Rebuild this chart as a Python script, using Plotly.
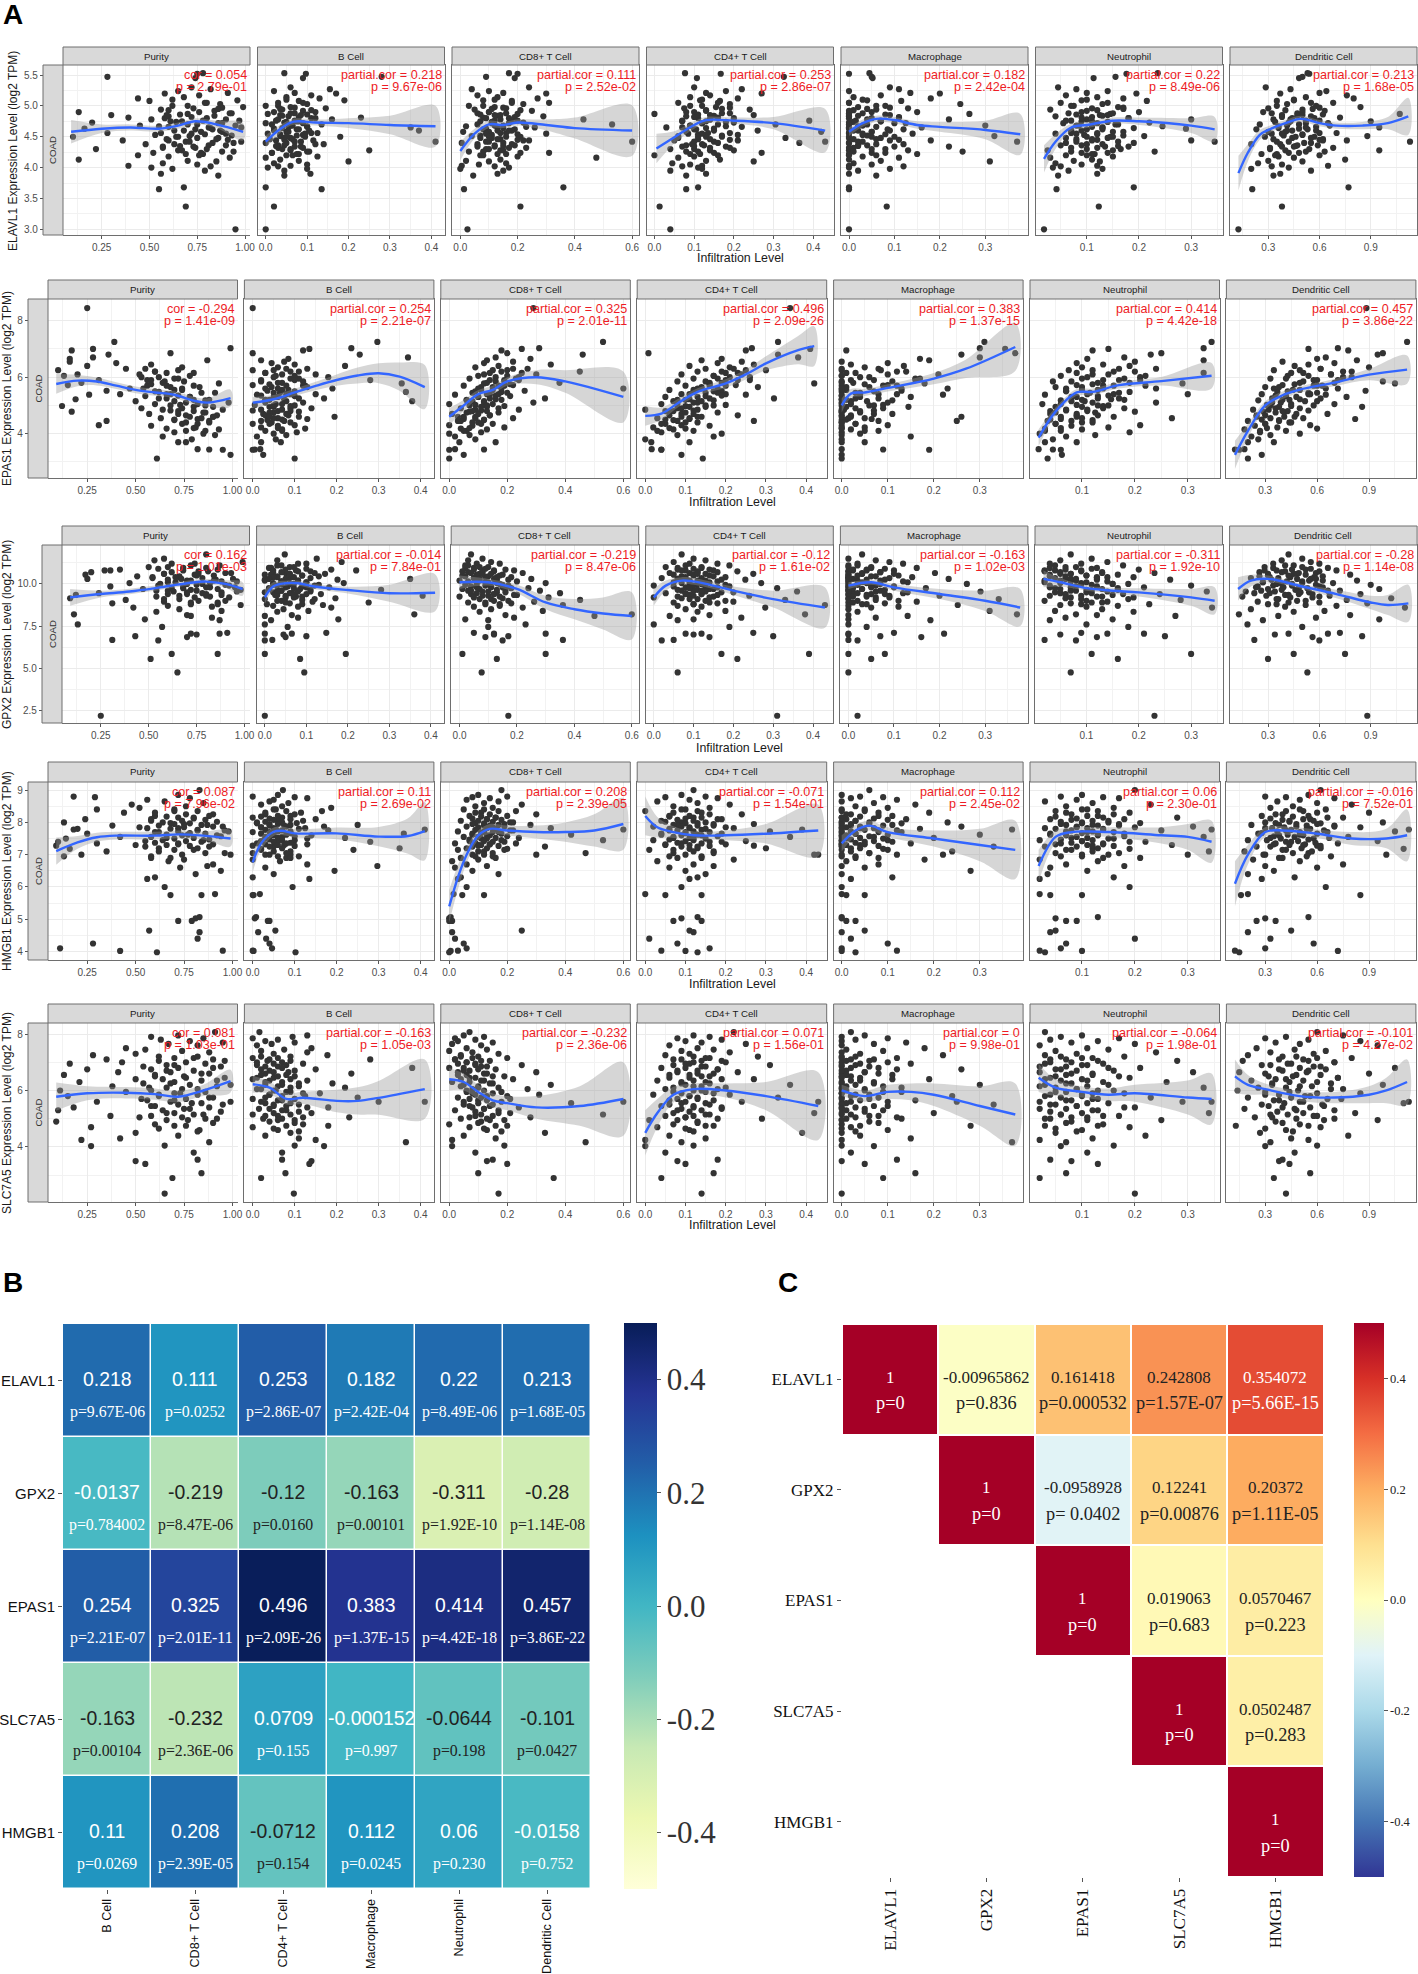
import plotly.graph_objects as go

W, H = 1418, 1974
SANS = "Liberation Sans"
SERIF = "Liberation Serif"

genes = ["ELAVL1", "EPAS1", "GPX2", "HMGB1", "SLC7A5"]
facets = ["Purity", "B Cell", "CD8+ T Cell", "CD4+ T Cell", "Macrophage", "Neutrophil", "Dendritic Cell"]

# cor labels per panel, row by row
cors = [["0.054", "0.218", "0.111", "0.253", "0.182", "0.22", "0.213"],
        ["-0.294", "0.254", "0.325", "0.496", "0.383", "0.414", "0.457"],
        ["0.162", "-0.014", "-0.219", "-0.12", "-0.163", "-0.311", "-0.28"],
        ["0.087", "0.11", "0.208", "-0.071", "0.112", "0.06", "-0.016"],
        ["0.081", "-0.163", "-0.232", "0.071", "0", "-0.064", "-0.101"]]
pvals = [["2.79e-01", "9.67e-06", "2.52e-02", "2.86e-07", "2.42e-04", "8.49e-06", "1.68e-05"],
         ["1.41e-09", "2.21e-07", "2.01e-11", "2.09e-26", "1.37e-15", "4.42e-18", "3.86e-22"],
         ["1.01e-03", "7.84e-01", "8.47e-06", "1.61e-02", "1.02e-03", "1.92e-10", "1.14e-08"],
         ["7.96e-02", "2.69e-02", "2.39e-05", "1.54e-01", "2.45e-02", "2.30e-01", "7.52e-01"],
         ["1.03e-01", "1.05e-03", "2.36e-06", "1.56e-01", "9.98e-01", "1.98e-01", "4.27e-02"]]

# scatter points: one expression list per gene (same samples in
# every panel of a row), one infiltration list per cell type. outliers are read dot by
# dot, the dense cores can't be separated so those are estimates
ELAVL1_expr = [5.53,5.52,5.47,5.45,5.3,5.27,5.24,5.21,5.2,5.17,
 5.14,5.12,5.09,5.08,5.05,5.03,5.0,4.98,4.96,4.94,
 4.92,4.9,4.88,4.87,4.85,4.83,4.81,4.8,4.78,4.76,
 4.75,4.73,4.72,4.7,4.68,4.67,4.65,4.63,4.62,4.6,
 4.58,4.56,4.55,4.53,4.51,4.5,4.48,4.46,4.44,4.42,
 4.4,4.38,4.36,4.34,4.32,4.3,4.28,4.26,4.24,4.22,
 4.2,4.18,4.16,4.13,4.11,4.1,4.07,4.05,4.03,4.02,
 4.0,3.98,3.95,3.9,3.87,3.68,3.65,3.37,3.0,4.42]
ELAVL1_purity = [.78,.75,.28,.74,.72,.82,.65,.91,.58,.76,
 .68,.44,.96,.5,.79,.87,.62,.99,.73,.56,
 .84,.13,.93,.7,.3,.6,.39,.8,.51,.97,
 .67,.2,.88,.75,.45,.55,.98,.16,.83,.63,
 .77,.28,.9,.53,.71,.1,.86,.59,.36,.69,
 .94,.48,.81,.57,.74,.22,.65,.88,.52,.78,
 .44,.6,.92,.13,.7,.85,.57,.75,.39,.82,
 .51,.62,.79,.56,.86,.68,.55,.69,.95,.98]
ELAVL1_bcell = [.045,.097,.28,.09,.06,.155,.02,.07,.17,.11,
 .05,.13,.19,.08,.03,.1,.0,.06,.145,.04,
 .09,.12,.07,.005,.035,.055,.23,.11,.16,.025,
 .08,.045,.0,.135,.065,.1,.35,.02,.075,.37,
 .05,.125,.005,.09,.035,.18,.06,.01,.115,.07,
 .0,.14,.045,.085,.03,.06,.25,.105,.015,.075,
 .05,.125,.0,.035,.08,.2,.02,.1,.06,.03,
 .005,.1,.045,.108,.045,0,.135,.02,0,.41]
ELAVL1_cd8 = [.17,.2,.09,.19,.24,.04,.1,.15,.3,.06,
 .13,.27,.08,.18,.31,.22,.03,.12,.16,.05,
 .25,.1,.06,.2,.14,.29,.08,.17,.43,.12,
 .07,.22,.11,.53,.15,.02,.26,.09,.19,.13,
 .01,.16,.3,.11,.04,.21,.07,.14,.24,.1,
 .005,.18,.12,.06,.23,.09,.15,.03,.31,.13,
 .08,.2,.475,.14,.02,.1,.16,.065,.005,.12,
 .17,.0,.15,.13,.045,.36,.013,.21,.025,.6]
ELAVL1_cd4 = [.077,.167,.326,.107,.1,.22,.18,.13,.27,.14,
 .09,.21,.115,.165,.06,.19,.12,.155,.075,.24,
 .13,.1,.19,.0,.25,.08,.16,.11,.14,.39,
 .07,.2,.12,.305,.09,.18,.03,.15,.105,.26,
 .42,.135,.085,.21,.06,.17,.33,.11,.05,.15,
 .365,.095,.125,.07,.19,.04,.14,.08,.27,.115,
 .0,.1,.06,.165,.13,.25,.045,.09,.12,.07,
 .11,.12,.04,.13,.08,.11,.08,.013,.04,.43]
ELAVL1_macro = [.045,0,.05,.052,.09,.11,.0,.135,.2,.07,
 .01,.18,.04,.115,.0,.245,.08,.02,.13,.06,
 .0,.15,.03,.265,.09,.0,.11,.05,.22,.015,
 .07,.0,.125,.04,.3,.02,.16,.0,.085,.01,
 .05,.0,.14,.03,.32,.1,.0,.06,.18,.02,
 .0,.12,.04,.22,.01,.08,.0,.25,.05,.15,
 .0,.03,.11,.0,.07,.31,.01,.05,.0,.12,
 .0,.09,.02,.0,.06,0,0,.083,0,.37]
ELAVL1_neut = [.236,.176,.155,.113,.045,.08,.14,.1,.195,.06,
 .12,.17,.09,.215,.05,.13,.075,.16,.11,.03,
 .1,.2,.065,.145,.125,.04,.09,.18,.3,.07,
 .11,.22,.055,.155,.085,.245,.13,.29,.1,.07,
 .17,.12,.04,.095,.21,.145,.06,.11,.3,.08,
 .19,.1,.05,.135,.07,.165,.025,.23,.09,.115,
 .06,.15,.03,.11,.075,.125,.04,.09,.12,.05,
 .035,.13,.065,.12,.045,.19,.042,.123,.018,.345]
ELAVL1_dc = [.53,.54,.5,.48,.285,.43,.64,.6,.37,.76,
 .52,.8,.45,.35,.68,.41,.58,.84,.3,.5,
 .63,.27,.47,1.07,.38,.55,.72,.44,.33,.6,
 .9,.42,.52,.25,.66,.36,.95,.48,.23,.58,
 .4,.7,.32,.5,.88,.28,.44,.62,.76,.35,
 .55,.2,.47,.38,.68,.31,.95,.52,.42,.26,
 .6,.36,.45,.75,.3,.5,.24,.38,.65,.32,
 .42,.2,.55,.37,.33,.77,.206,.38,.125,1.13]

EPAS1_expr = [8.45,7.25,7.03,7.0,6.95,6.85,6.8,6.7,6.65,6.6,
 6.55,6.5,6.45,6.4,6.35,6.3,6.25,6.2,6.15,6.1,
 6.05,6.0,5.95,5.9,5.85,5.8,5.78,5.72,5.7,5.65,
 5.6,5.55,5.52,5.48,5.45,5.4,5.38,5.33,5.3,5.25,
 5.22,5.18,5.15,5.1,5.05,5.02,4.98,4.95,4.9,4.85,
 4.82,4.78,4.75,4.7,4.65,4.6,4.55,4.52,4.48,4.45,
 4.4,4.35,4.3,4.28,4.22,4.18,4.15,4.1,4.05,4.0,
 3.95,3.9,3.8,3.7,3.7,3.45,3.44,3.25,3.12,3.43]
EPAS1_purity = [.25,.39,.99,.28,.17,.68,.36,.28,.16,.87,
 .16,.4,.58,.25,.74,.45,.1,.6,.8,.2,
 .13,.53,.72,.31,.65,.22,.93,.15,.56,.83,
 .47,.7,.35,.62,.91,.42,.26,.55,.78,.66,
 .19,.86,.5,.98,.6,.73,.12,.8,.53,.95,
 .68,.17,.85,.57,.76,.9,.63,.82,.7,.35,
 .88,.74,.31,.58,.81,.66,.93,.76,.7,.85,
 .91,.64,.79,.76,.72,.82,.88,.99,.61,.95]
EPAS1_bcell = [0,.297,.235,.135,.12,0,.255,.37,.085,.02,
 .075,.045,.1,.22,.06,.13,.0,.09,.03,.15,
 .055,.18,.11,.28,.02,.07,.355,.0,.125,.045,
 .19,.085,.035,.365,.065,.15,.01,.1,.05,.17,
 .075,.03,.38,.12,.055,.005,.09,.04,.14,.07,
 .0,.11,.05,.025,.085,.195,.06,.13,.035,.075,
 .045,.0,.1,.06,.02,.125,.07,.03,.105,.05,
 .08,.01,.055,.067,.02,.018,.005,.025,.1,.0]
EPAS1_cd8 = [.29,.53,.31,.25,.18,.2,.46,.16,.28,.13,
 .22,.12,.35,.17,.09,.27,.2,.45,.14,.3,
 .1,.24,.07,.19,.16,.38,.12,.22,.05,.15,
 .6,.11,.26,.18,.08,.14,.02,.21,.1,.33,
 .16,.06,.12,.29,.0,.09,.19,.13,.04,.24,
 .11,.07,.17,.01,.14,.09,.22,.05,.12,.03,
 .1,.15,.0,.08,.19,.04,.13,.06,.11,.0,
 .07,.02,.09,.16,.035,.02,.12,.05,.0,.0]
EPAS1_cd4 = [.36,.33,.265,.41,.25,.008,.33,.38,.19,.14,
 .24,.18,.27,.11,.21,.15,.3,.13,.23,.09,
 .17,.26,.12,.2,.08,.16,.42,.225,.1,.28,
 .14,.06,.19,.12,.18,.09,.25,.15,.05,.32,
 .11,.17,.07,.13,.04,.2,.1,.15,.08,.0,
 .12,.06,.18,.09,.23,.14,.03,.11,.07,.27,
 .13,.05,.09,.16,.02,.1,.07,.12,.04,.19,
 .08,.17,.0,.11,.015,.016,.04,.09,.143,.04]
EPAS1_macro = [None,.31,.3,.355,.01,.377,.26,.3,.17,.19,
 .0,.1,.02,.135,.05,.0,.085,.12,.01,.21,
 .0,.04,.16,.07,.0,.025,.18,.1,.0,.06,
 .23,.01,.13,.0,.04,.08,.22,.0,.15,.03,
 .0,.11,.055,.0,.02,.09,.0,.145,.03,.005,
 .07,.0,.04,.11,.0,.26,.015,.065,.0,.25,
 .0,.03,.1,.0,.05,.0,.02,.08,.0,.04,
 .0,.15,.0,.05,.0,.0,.09,.0,.0,.19]
EPAS1_neut = [None,.345,.33,.15,.12,.25,.23,.18,.11,.33,
 .2,.09,.14,.19,.1,.24,.075,.16,.33,.12,
 .06,.21,.1,.17,.045,.13,.29,.09,.22,.05,
 .14,.1,.07,.19,.115,.3,.03,.13,.08,.17,
 .155,.06,.105,.24,.025,.09,.14,.05,.18,.11,
 .07,.2,.125,.04,.09,.16,.27,.06,.12,.035,
 .1,.05,.21,.08,.15,.03,.1,.06,.19,.02,
 .125,.07,.045,.03,.09,.018,.045,.062,.035,.06]
EPAS1_dc = [.885,1.12,.72,.55,.78,.98,.95,.65,.6,.83,
 .4,.7,.55,.47,.9,.62,.35,.8,.52,.68,
 .43,.75,.33,.58,.98,.5,1.05,.4,.63,.3,
 .72,.46,.88,.37,.55,.28,.65,.42,.77,.34,
 .5,.26,.6,.39,.7,.31,.45,.86,.36,.23,
 .55,.29,.41,.66,.25,.47,.33,.82,.38,.2,
 .44,.3,.56,.24,.37,.6,.18,.42,.27,.5,
 .33,.22,.26,.2,.35,.18,.125,.28,.2,.15]

GPX2_expr = [11.75,11.5,11.4,11.3,11.2,11.2,11.1,11.0,10.95,10.85,
 10.8,10.8,10.75,10.7,10.65,10.6,10.55,10.5,10.45,10.4,
 10.35,10.3,10.25,10.2,10.15,10.1,10.05,10.0,9.95,9.9,
 9.85,9.8,9.75,9.7,9.65,9.6,9.55,9.5,9.45,9.4,
 9.35,9.3,9.25,9.2,9.15,9.1,9.05,9.0,8.95,8.9,
 8.85,8.8,8.75,8.7,8.65,8.6,8.5,8.4,8.35,8.2,
 8.15,8.1,8.0,7.9,7.85,7.6,7.45,7.1,7.05,7.05,
 7.0,6.9,6.85,6.68,6.65,5.85,5.85,5.55,4.75,2.18]
GPX2_purity = [.8,.58,.53,.99,.74,.62,.87,.5,.68,.35,
 .27,.3,.81,.2,.93,.58,.17,.75,.44,.66,
 .52,.18,.85,.72,.96,.6,.4,.78,.9,.55,
 .3,.82,.68,.47,.98,.75,.63,.88,.24,.7,
 .12,.8,.54,.92,.09,.66,.38,.76,.58,.86,
 .31,.72,.98,.6,.83,.42,.66,.88,.54,.11,
 .7,.72,.83,.48,.87,.13,.57,.91,.72,.87,
 .75,.43,.7,.31,.55,.62,.86,.51,.65,.25]
GPX2_bcell = [.048,.125,.03,.185,.1,.08,.04,.06,.015,.16,
 .22,.075,.11,.02,.05,.145,.0,.09,.13,.03,
 .06,.35,.175,.0,.04,.1,.19,.07,.02,.12,
 .055,.155,.01,.085,.28,.04,.11,.0,.065,.135,
 .025,.38,.075,.05,.17,.0,.09,.03,.115,.25,
 .06,.005,.14,.02,.08,.16,.045,.105,.03,.36,
 .065,.0,.08,.177,.015,.0,.055,.148,.065,.0,
 .045,.1,.05,.018,.0,.195,.0,.085,.095,.0]
GPX2_cd8 = [.04,.08,.03,.11,.06,.14,.02,.1,.05,.16,
 .08,.19,.12,.03,.22,.07,.15,.01,.1,.18,
 .05,.25,.13,.0,.2,.09,.3,.14,.02,.17,
 .11,.06,.24,.01,.16,.28,.08,.13,.35,.04,
 .2,.1,.0,.31,.15,.07,.42,.12,.26,.03,
 .18,.09,.36,.14,.05,.22,.11,.29,.07,.6,
 .16,.47,.19,.02,.1,.23,.1,.05,.12,.3,
 .12,.17,.09,.36,.15,.01,.3,.13,.077,.17]
GPX2_cd4 = [.07,.1,.13,.05,.16,.09,.19,.03,.12,.06,
 .15,.08,.21,.11,.04,.25,.1,.14,.07,.18,
 .02,.12,.23,.09,.16,.05,.27,.11,.13,.0,
 .19,.08,.31,.14,.06,.1,.36,.17,.03,.12,
 .09,.24,.15,.0,.07,.11,.33,.13,.2,.05,
 .16,.1,.43,.06,.12,.28,.08,.18,.11,.38,
 .14,.04,.22,.1,.06,.0,.19,.25,.12,.08,
 .1,.3,.14,.05,.02,.17,.39,.21,.06,.31]
GPX2_macro = [.03,.0,.06,.09,.02,.12,.0,.05,.15,.04,
 .01,.1,.0,.07,.19,.03,.0,.11,.05,.14,
 .0,.22,.08,.02,.0,.13,.04,.26,.0,.06,
 .1,.0,.17,.03,.0,.07,.29,.01,.12,.05,
 .0,.2,.04,.09,.0,.33,.06,.02,.15,.0,
 .08,.03,.24,.0,.11,.05,.0,.31,.02,.37,
 .0,.13,.06,.0,.18,.0,.04,.1,.0,.21,
 .0,.07,.16,.0,.02,.0,.08,.05,.0,.02]
GPX2_neut = [.07,.11,.05,.14,.09,.03,.17,.06,.12,.2,
 .04,.09,.02,.13,.23,.07,.16,.1,.03,.19,
 .12,.06,.26,.05,.14,.02,.09,.18,.11,.3,
 .08,.21,.04,.13,.16,.07,.33,.1,.05,.24,
 .15,.03,.12,.19,.06,.09,.28,.02,.14,.11,
 .07,.22,.05,.16,.1,.34,.13,.04,.19,.08,
 .12,.27,.06,.15,.03,.1,.18,.09,.21,.14,
 .05,.25,.12,.02,.08,.11,.3,.16,.07,.23]
GPX2_dc = [.42,.5,.38,.55,.33,.6,.45,.28,.65,.52,
 .35,.7,.4,.25,.58,.47,.78,.3,.62,.43,
 .2,.55,.36,.82,.5,.27,.68,.44,.9,.33,
 .6,.23,.48,.95,.38,.72,.17,.54,.31,.84,
 .42,.66,.15,.56,1.02,.35,.76,.47,.24,.6,
 .88,.3,.52,.7,.4,1.1,.2,.63,.45,.13,
 .78,.36,.58,.95,.27,.18,.5,.72,.42,.65,
 .34,.85,.56,.22,.6,.45,.75,.3,.53,.88]

HMGB1_expr = [9.0,8.85,8.8,8.78,8.75,8.7,8.65,8.6,8.55,8.5,
 8.45,8.4,8.35,8.3,8.25,8.2,8.15,8.1,8.05,8.0,
 7.98,7.95,7.92,7.9,7.87,7.85,7.82,7.8,7.75,7.72,
 7.7,7.65,7.62,7.6,7.55,7.52,7.5,7.45,7.42,7.4,
 7.35,7.32,7.3,7.25,7.2,7.18,7.15,7.1,7.05,7.0,
 6.95,6.9,6.85,6.8,6.7,6.65,6.6,6.5,6.4,6.3,
 6.25,6.0,5.78,5.75,5.75,5.07,5.03,4.95,4.95,4.65,
 4.6,4.4,4.25,4.1,4.03,4.02,3.98,7.78,7.28,7.0]
HMGB1_purity = [.83,.72,.18,.29,.78,.56,.65,.85,.48,.76,
 .52,.3,.7,.44,.9,.6,.8,.24,.58,.13,
 .68,.75,.87,.38,.95,.52,.72,.2,.82,.98,
 .62,.25,.77,.92,.42,.66,.14,.85,.55,.1,
 .3,.72,.5,.88,.62,.16,.8,.35,.96,.22,
 .13,.58,.75,.67,.9,.87,.73,.94,.81,.6,
 .56,.65,.91,.68,.84,.83,.81,.72,.79,.57,
 .83,.82,.28,.11,.95,.42,.61,.18,.09,.99]
HMGB1_bcell = [.072,.06,.0,.1,.13,.05,.04,.085,.02,.07,
 .187,.055,.165,.115,.03,.09,.0,.15,.06,.01,
 .105,.04,.25,.075,.17,.02,.125,.055,.18,.09,
 .0,.36,.045,.14,.07,.22,.03,.1,.06,.28,
 .01,.13,.075,.05,.35,.02,.24,.09,.0,.04,
 .11,.08,.0,.065,.13,.297,.03,.195,.05,.0,
 .135,.095,.017,.0,.002,.008,.005,.04,.036,.054,
 .013,.032,.04,.046,.0,.002,.102,.41,.0,.09]
HMGB1_cd8 = [.18,.1,.2,.08,.14,.06,.17,.12,.25,.09,
 .15,.05,.23,.11,.3,.07,.16,.13,.04,.21,
 .09,.19,.28,.12,.06,.15,.35,.1,.22,.03,
 .17,.08,.42,.13,.05,.24,.11,.53,.07,.19,
 .02,.14,.1,.33,.06,.2,.03,.12,.47,.08,
 .15,.04,.1,.01,.06,.13,.02,.08,.17,.04,
 .03,.06,.015,.045,.12,.005,.0,.0,.01,.25,
 .01,.02,.05,.06,.03,.005,.0,.6,.1,.3]
HMGB1_cd4 = [.12,.09,.15,.05,.18,.11,.03,.13,.21,.07,
 .16,.1,.0,.14,.24,.06,.12,.19,.04,.09,
 .13,.27,.08,.17,.02,.11,.22,.15,.06,.31,
 .1,.19,.04,.14,.36,.07,.12,.02,.25,.16,
 .09,.2,.05,.13,.3,.11,.01,.17,.07,.42,
 .14,.08,.22,.03,.12,.17,.06,.1,.15,.13,
 .11,.09,.0,.05,.14,.13,.09,.14,.07,.11,
 .12,.01,.08,.16,.04,.1,.13,.39,.27,.43]
HMGB1_macro = [.06,.0,.04,.09,.02,.12,.0,.07,.16,.03,
 .1,.0,.05,.19,.01,.08,.0,.14,.03,.23,
 .0,.06,.11,.02,.26,.0,.04,.17,.08,.0,
 .13,.03,.3,.0,.07,.2,.01,.1,.0,.05,
 .15,.0,.04,.33,.02,.09,.0,.24,.06,.12,
 .0,.03,.18,.01,.08,.0,.05,.28,.0,.11,
 .02,.0,.0,.01,.05,.0,.0,.01,.03,.05,
 .0,.02,.1,.0,.12,.0,.03,.37,.0,.22]
HMGB1_neut = [.2,.1,.06,.14,.17,.09,.03,.12,.23,.07,
 .16,.11,.05,.19,.08,.13,.28,.04,.15,.1,
 .21,.06,.12,.17,.31,.09,.03,.14,.25,.07,
 .11,.18,.04,.13,.33,.08,.16,.02,.1,.22,
 .06,.14,.27,.03,.12,.19,.08,.34,.05,.15,
 .1,.21,.02,.13,.07,.18,.04,.11,.035,.16,
 .02,.19,.02,.1,.04,.13,.05,.09,.07,.05,
 .04,.2,.07,.06,.02,.1,.03,.345,.12,.3]
HMGB1_dc = [.62,.55,.3,.42,.7,.5,.37,.6,.8,.46,
 .33,.65,.52,.9,.4,.28,.75,.56,.44,.98,
 .36,.6,.22,.7,.48,.85,.3,.54,.42,1.05,
 .66,.26,.5,.38,.78,.33,.58,.2,.95,.45,
 .72,.35,.52,.25,.62,1.1,.42,.18,.55,.3,
 .68,.4,.23,.5,.75,.3,.6,.35,.2,.47,
 .28,.65,.2,.85,.16,.55,.3,.36,.25,.45,
 .2,.33,.58,.3,.125,.72,.15,1.13,.6,1.0]

SLC7A5_expr = [8.07,7.95,7.9,7.85,7.8,7.75,7.7,7.65,7.6,7.5,
 7.45,7.4,7.35,7.3,7.25,7.2,7.15,7.1,7.05,7.0,
 6.95,6.9,6.85,6.8,6.75,6.7,6.65,6.6,6.55,6.5,
 6.45,6.4,6.35,6.3,6.25,6.2,6.15,6.1,6.05,6.0,
 5.95,5.9,5.85,5.8,5.75,5.7,5.65,5.6,5.55,5.5,
 5.45,5.4,5.35,5.3,5.2,5.15,5.1,5.05,5.0,4.95,
 4.9,4.8,4.75,4.7,4.6,4.5,4.4,4.3,4.25,4.17,
 4.05,4.03,3.8,3.55,3.5,3.4,3.07,2.9,2.35,5.6]
SLC7A5_purity = [.91,.72,.58,.85,.63,.78,.95,.67,.82,.45,
 .55,.74,.88,.5,.28,.62,.8,.35,.96,.43,
 .16,.7,.54,.9,.25,.66,.41,.84,.13,.6,
 .76,.5,.92,.21,.68,.99,.38,.57,.82,.11,
 .45,.73,.62,.15,.88,.53,.7,.3,.79,.95,
 .58,.18,.75,.1,.66,.85,.37,.52,.92,.77,
 .09,.6,.7,.27,.83,.5,.72,.42,.22,.88,
 .65,.27,.8,.82,.5,.55,.84,.69,.65,.99]
SLC7A5_bcell = [.016,.13,.095,.0,.06,.03,.1,.045,.01,.14,
 .075,.02,.13,.05,.178,.09,.0,.28,.035,.07,
 .12,.01,.06,.38,.15,.04,.085,.235,.02,.1,
 .05,.0,.13,.03,.19,.07,.11,.22,.01,.055,
 .09,.16,.04,.125,.25,.0,.07,.3,.03,.11,
 .05,.18,.015,.08,.14,.0,.06,.23,.025,.1,
 .04,.12,.18,.0,.06,.09,.03,.11,.15,.365,
 .1,.17,.07,.07,.14,.135,.078,.02,.098,.41]
SLC7A5_cd8 = [.07,.05,.12,.02,.09,.03,.15,.01,.11,.06,
 .13,.0,.08,.17,.04,.1,.2,.02,.14,.06,
 .09,.25,.11,.0,.16,.05,.3,.13,.03,.19,
 .07,.22,.12,.01,.15,.35,.04,.1,.27,.06,
 .18,.08,.31,.13,.03,.21,.1,.05,.42,.15,
 .07,.24,.12,.02,.17,.53,.09,.28,.04,.14,
 .11,.0,.2,.07,.13,.33,.05,.16,.01,.47,
 .19,.01,.09,.15,.13,.2,.1,.36,.17,.6]
SLC7A5_cd4 = [.22,.12,.16,.08,.19,.1,.14,.25,.06,.13,
 .17,.09,.21,.11,.05,.28,.15,.07,.19,.12,
 .1,.31,.14,.04,.18,.08,.23,.13,.06,.16,
 .11,.27,.03,.15,.09,.36,.12,.2,.05,.14,
 .07,.17,.02,.11,.33,.13,.06,.24,.09,.16,
 .04,.12,.19,.08,.42,.15,.05,.1,.29,.01,
 .13,.07,.17,.03,.11,.39,.06,.15,.0,.09,
 .12,.0,.05,.18,.08,.1,.17,.04,.14,.43]
SLC7A5_macro = [.02,.05,.0,.1,.03,.0,.14,.07,.0,.18,
 .01,.09,.0,.04,.22,.0,.12,.02,.06,.0,
 .15,.03,.0,.08,.26,.01,.05,.0,.11,.02,
 .0,.19,.04,.0,.07,.3,.01,.13,.0,.05,
 .09,.0,.03,.24,.0,.06,.16,.02,.0,.33,
 .1,.0,.05,.01,.2,.0,.08,.03,.13,.0,
 .06,.0,.28,.02,.1,.0,.04,.15,.0,.37,
 .0,.07,.02,.12,.0,.05,.16,.09,.0,.25]
SLC7A5_neut = [.03,.1,.06,.17,.04,.13,.08,.2,.02,.11,
 .15,.05,.24,.09,.03,.18,.12,.07,.28,.04,
 .14,.1,.02,.21,.06,.16,.31,.08,.12,.05,
 .19,.03,.11,.26,.07,.15,.02,.33,.09,.13,
 .05,.18,.1,.03,.23,.12,.07,.29,.15,.04,
 .09,.2,.02,.13,.34,.06,.17,.11,.04,.25,
 .08,.14,.03,.19,.1,.05,.22,.12,.02,.07,
 .16,.06,.11,.04,.08,.13,.07,.02,.2,.345]
SLC7A5_dc = [.6,.75,.42,.3,.55,.85,.36,.5,.95,.25,
 .47,.65,.33,.58,.2,.4,.8,.52,.17,.7,
 .45,.28,.62,1.05,.38,.55,.15,.9,.48,.32,
 .72,.42,.22,.6,.34,.98,.5,.26,.68,.14,
 .44,.85,.3,.56,.2,.74,.38,.52,1.1,.28,
 .64,.4,.18,.48,.82,.33,.58,.24,.7,.95,
 .36,.5,.13,.62,.42,.27,.78,.45,.55,.33,
 .6,.3,.47,.4,.38,.44,.56,.35,.42,1.13]

# extra points that fill the dark core of each cloud, estimated
ELAVL1_core = [5.1,5.05,5.0,4.97,4.93,4.9,4.88,4.86,4.84,4.82,
 4.8,4.78,4.76,4.74,4.72,4.7,4.68,4.66,4.64,4.62,
 4.6,4.58,4.56,4.54,4.52,4.5,4.48,4.46,4.44,4.42,
 4.4,4.38,4.36,4.34,4.32,4.3,4.28,4.26,4.24,4.22,
 4.95,4.75,4.65,4.55,4.45,4.35,4.2,4.85,4.6,4.5]
ELAVL1_core_purity = [.62,.8,.7,.88,.6,.76,.92,.66,.84,.72,
 .58,.9,.78,.64,.86,.7,.95,.6,.82,.74,
 .68,.88,.56,.79,.93,.65,.75,.85,.6,.71,
 .83,.63,.9,.73,.57,.8,.67,.94,.77,.69,
 .86,.61,.81,.72,.91,.66,.76,.59,.87,.64]
ELAVL1_core_bcell = [.05,.09,.03,.07,.11,.02,.06,.1,.04,.08,
 .12,.03,.07,.05,.09,.015,.06,.1,.04,.08,
 .02,.055,.11,.035,.075,.095,.045,.065,.025,.085,
 .05,.12,.03,.07,.09,.04,.06,.1,.015,.08,
 .035,.075,.055,.095,.045,.025,.065,.085,.105,.05]
ELAVL1_core_cd8 = [.12,.18,.08,.15,.21,.1,.16,.07,.13,.19,
 .09,.14,.2,.11,.17,.06,.12,.23,.15,.08,
 .18,.1,.14,.2,.07,.16,.11,.13,.22,.09,
 .15,.06,.19,.12,.17,.1,.14,.08,.21,.16,
 .11,.18,.13,.09,.2,.15,.07,.12,.17,.1]
ELAVL1_core_cd4 = [.12,.16,.09,.19,.13,.08,.17,.11,.15,.1,
 .2,.14,.07,.18,.12,.16,.09,.22,.13,.1,
 .15,.08,.19,.11,.17,.13,.06,.14,.21,.1,
 .16,.12,.08,.18,.14,.1,.2,.11,.15,.09,
 .17,.13,.07,.12,.19,.1,.16,.14,.08,.11]
ELAVL1_core_macro = [.03,.0,.06,.09,.01,.05,.0,.08,.02,.11,
 .0,.04,.07,.01,.1,.0,.03,.06,.0,.12,
 .02,.05,.0,.08,.04,.0,.07,.01,.09,.03,
 .0,.06,.02,.1,.0,.05,.13,.01,.08,.0,
 .04,.07,.0,.03,.11,.02,.06,.0,.09,.05]
ELAVL1_core_neut = [.1,.14,.07,.17,.12,.09,.15,.08,.13,.11,
 .18,.1,.06,.14,.12,.16,.08,.11,.19,.13,
 .09,.15,.07,.12,.17,.1,.14,.08,.11,.16,
 .06,.13,.09,.18,.12,.1,.15,.07,.14,.11,
 .17,.09,.13,.08,.12,.16,.1,.14,.07,.15]
ELAVL1_core_dc = [.45,.55,.35,.6,.4,.5,.32,.62,.47,.38,
 .57,.43,.52,.34,.65,.48,.41,.58,.36,.53,
 .44,.3,.6,.5,.39,.46,.55,.33,.62,.42,
 .51,.37,.59,.45,.31,.54,.4,.63,.48,.35,
 .56,.43,.52,.38,.6,.46,.34,.5,.41,.57]

EPAS1_core = [6.3,6.25,6.2,6.15,6.1,6.05,6.0,5.95,5.9,5.85,
 5.8,5.75,5.7,5.65,5.6,5.55,5.5,5.45,5.4,5.35,
 5.3,5.25,5.2,5.15,5.1,5.05,5.0,4.95,4.9,4.85,
 4.8,4.75,4.7,4.65,4.6,4.55,4.5,4.45,4.4,4.35,
 5.9,5.6,5.4,5.2,5.0,4.8,4.6,4.2,4.1,5.7]
EPAS1_core_purity = [.55,.72,.6,.66,.52,.78,.62,.7,.56,.75,
 .64,.58,.8,.68,.54,.74,.6,.84,.66,.72,
 .78,.62,.88,.7,.76,.82,.68,.9,.74,.64,
 .8,.86,.72,.92,.78,.84,.7,.88,.76,.82,
 .58,.74,.68,.8,.86,.72,.9,.8,.86,.66]
EPAS1_core_bcell = [.08,.05,.11,.03,.07,.1,.05,.09,.02,.12,
 .06,.04,.08,.13,.03,.07,.1,.05,.09,.02,
 .06,.11,.04,.08,.03,.07,.1,.05,.09,.02,
 .06,.04,.08,.03,.11,.05,.07,.02,.09,.04,
 .1,.06,.08,.03,.05,.09,.04,.06,.07,.12]
EPAS1_core_cd8 = [.22,.15,.18,.25,.12,.2,.16,.23,.14,.19,
 .13,.21,.17,.11,.18,.15,.09,.2,.13,.16,
 .1,.14,.18,.08,.12,.15,.07,.11,.17,.09,
 .13,.06,.1,.14,.05,.09,.12,.04,.08,.11,
 .24,.1,.17,.06,.13,.08,.03,.07,.05,.19]
EPAS1_core_cd4 = [.22,.25,.19,.2,.24,.17,.21,.18,.23,.15,
 .19,.16,.2,.14,.18,.12,.17,.15,.11,.19,
 .13,.16,.1,.14,.12,.08,.15,.11,.09,.13,
 .07,.1,.12,.06,.09,.11,.05,.08,.1,.04,
 .26,.13,.2,.08,.17,.05,.13,.06,.03,.16]
EPAS1_core_macro = [.08,.0,.14,.03,.1,.0,.06,.17,.02,.11,
 .0,.05,.09,.01,.13,.0,.07,.03,.12,.0,
 .04,.08,.0,.02,.1,.0,.06,.01,.09,.0,
 .04,.0,.07,.02,.0,.05,.01,.08,.0,.03,
 .16,.0,.04,.01,.07,.0,.02,.0,.05,.12]
EPAS1_core_neut = [.17,.12,.2,.09,.15,.22,.11,.18,.14,.08,
 .19,.12,.16,.1,.24,.13,.07,.17,.11,.15,
 .09,.13,.18,.08,.12,.06,.15,.1,.14,.07,
 .11,.05,.09,.13,.06,.1,.04,.08,.12,.05,
 .21,.07,.16,.1,.13,.04,.09,.06,.03,.14]
EPAS1_core_dc = [.62,.5,.75,.45,.68,.55,.8,.42,.6,.52,
 .7,.47,.58,.38,.65,.5,.43,.6,.55,.36,
 .48,.62,.4,.53,.34,.45,.58,.38,.5,.32,
 .43,.36,.48,.3,.41,.52,.28,.38,.45,.3,
 .72,.35,.56,.44,.33,.4,.25,.31,.27,.6]

GPX2_core = [11.1,11.0,10.95,10.9,10.85,10.8,10.75,10.7,10.65,10.6,
 10.55,10.5,10.45,10.4,10.35,10.3,10.25,10.2,10.15,10.1,
 10.05,10.0,9.95,9.9,9.85,9.8,9.75,9.7,9.65,9.6,
 9.55,9.5,9.45,9.4,9.35,9.3,9.25,9.2,9.1,9.0,
 10.6,10.4,10.2,10.0,9.8,9.6,9.4,8.9,8.8,10.3]
GPX2_core_purity = [.72,.6,.8,.55,.86,.68,.76,.62,.9,.58,
 .74,.84,.66,.52,.78,.94,.6,.7,.88,.64,
 .82,.56,.75,.92,.68,.8,.62,.86,.72,.54,
 .96,.7,.78,.6,.88,.66,.82,.74,.58,.9,
 .76,.64,.84,.7,.95,.6,.8,.72,.86,.67]
GPX2_core_bcell = [.03,.07,.01,.1,.05,.02,.08,.04,.12,.06,
 .015,.09,.03,.07,.11,.05,.0,.08,.04,.1,
 .02,.06,.13,.03,.09,.05,.07,.01,.11,.04,
 .08,.02,.06,.1,.03,.05,.09,.07,.12,.04,
 .06,.02,.08,.04,.1,.03,.07,.05,.09,.01]
GPX2_core_cd8 = [.03,.07,.02,.09,.05,.12,.01,.08,.04,.11,
 .06,.14,.02,.09,.05,.12,.17,.07,.03,.1,
 .13,.06,.15,.09,.04,.11,.18,.07,.13,.03,
 .1,.16,.06,.12,.19,.08,.14,.05,.11,.17,
 .08,.13,.06,.1,.15,.04,.12,.09,.14,.07]
GPX2_core_cd4 = [.08,.12,.06,.1,.14,.07,.11,.16,.09,.13,
 .05,.1,.15,.08,.12,.06,.17,.11,.09,.14,
 .07,.12,.18,.1,.05,.13,.09,.15,.11,.07,
 .13,.2,.08,.12,.16,.1,.06,.14,.09,.18,
 .11,.07,.13,.09,.16,.12,.08,.14,.1,.06]
GPX2_core_macro = [.02,.0,.05,.08,.01,.04,.0,.07,.03,.1,
 .0,.02,.06,.0,.09,.01,.04,.0,.12,.03,
 .0,.07,.02,.05,.0,.1,.01,.03,.08,.0,
 .06,.13,.02,.0,.04,.09,.01,.06,.0,.11,
 .03,.0,.07,.02,.05,.0,.08,.01,.04,.0]
GPX2_core_neut = [.04,.08,.03,.11,.06,.02,.09,.05,.13,.07,
 .03,.1,.06,.14,.04,.08,.12,.02,.07,.1,
 .05,.15,.09,.03,.12,.07,.16,.05,.1,.08,
 .14,.04,.11,.17,.06,.09,.13,.07,.18,.1,
 .05,.12,.08,.15,.03,.11,.06,.13,.09,.07]
GPX2_core_dc = [.4,.5,.33,.55,.44,.28,.6,.38,.48,.3,
 .52,.42,.25,.57,.36,.47,.32,.62,.41,.27,
 .5,.35,.58,.44,.24,.39,.53,.3,.46,.65,
 .34,.49,.22,.56,.4,.29,.6,.43,.36,.52,
 .45,.31,.54,.38,.62,.26,.48,.42,.35,.58]

HMGB1_core = [8.4,8.35,8.3,8.25,8.2,8.18,8.15,8.12,8.1,8.08,
 8.05,8.02,8.0,7.97,7.95,7.92,7.9,7.87,7.85,7.82,
 7.8,7.77,7.75,7.72,7.7,7.67,7.65,7.62,7.6,7.57,
 7.55,7.52,7.5,7.47,7.45,7.42,7.4,7.37,7.35,7.32,
 7.3,7.27,7.25,7.2,7.15,7.1,7.05,7.0,6.95,6.9]
HMGB1_core_purity = [.7,.82,.6,.76,.88,.66,.72,.8,.58,.86,
 .74,.92,.64,.78,.7,.84,.62,.9,.75,.56,
 .68,.82,.96,.72,.6,.78,.86,.66,.74,.94,
 .58,.8,.7,.88,.64,.76,.84,.6,.72,.9,
 .66,.78,.55,.82,.7,.62,.86,.74,.58,.68]
HMGB1_core_bcell = [.05,.08,.03,.1,.06,.02,.07,.04,.09,.05,
 .12,.03,.07,.01,.06,.09,.04,.08,.02,.05,
 .11,.03,.07,.06,.04,.09,.02,.08,.05,.1,
 .03,.06,.13,.04,.07,.02,.05,.09,.08,.03,
 .06,.1,.04,.07,.02,.05,.08,.03,.06,.09]
HMGB1_core_cd8 = [.12,.17,.09,.14,.2,.11,.16,.08,.13,.18,
 .1,.15,.22,.12,.08,.17,.14,.19,.1,.13,
 .16,.09,.21,.12,.15,.11,.18,.08,.14,.2,
 .1,.16,.13,.07,.18,.12,.15,.09,.23,.14,
 .11,.17,.08,.13,.19,.1,.15,.12,.09,.16]
HMGB1_core_cd4 = [.09,.13,.07,.16,.11,.06,.14,.1,.18,.08,
 .12,.05,.15,.1,.17,.07,.13,.09,.2,.11,
 .06,.14,.08,.12,.16,.1,.04,.13,.09,.18,
 .07,.11,.15,.06,.12,.1,.19,.08,.14,.05,
 .11,.16,.09,.13,.07,.12,.17,.1,.06,.14]
HMGB1_core_macro = [.05,.0,.08,.02,.11,.04,.0,.07,.01,.1,
 .03,.0,.06,.13,.02,.0,.09,.04,.01,.07,
 .0,.05,.12,.02,.08,.0,.03,.1,.01,.06,
 .0,.04,.09,.02,.0,.07,.11,.03,.0,.05,
 .01,.08,.0,.04,.1,.02,.06,.0,.03,.08]
HMGB1_core_neut = [.1,.13,.07,.16,.11,.05,.14,.09,.18,.08,
 .12,.06,.15,.1,.17,.07,.13,.09,.2,.11,
 .05,.14,.08,.12,.16,.1,.04,.13,.07,.18,
 .09,.11,.15,.06,.12,.1,.19,.08,.14,.05,
 .11,.16,.09,.13,.07,.12,.17,.1,.06,.14]
HMGB1_core_dc = [.5,.42,.6,.36,.55,.46,.66,.33,.52,.4,
 .58,.44,.3,.62,.48,.38,.54,.7,.41,.34,
 .56,.45,.64,.37,.5,.28,.6,.43,.52,.35,
 .47,.67,.39,.55,.31,.49,.42,.59,.36,.53,
 .44,.62,.33,.51,.4,.57,.46,.29,.54,.38]

SLC7A5_core = [7.2,7.15,7.1,7.05,7.0,6.95,6.9,6.85,6.8,6.75,
 6.7,6.65,6.6,6.55,6.5,6.45,6.4,6.35,6.3,6.25,
 6.2,6.15,6.1,6.05,6.0,5.95,5.9,5.85,5.8,5.75,
 5.7,5.65,5.6,5.55,5.5,5.45,5.4,5.35,5.3,5.25,
 5.2,5.15,5.1,5.05,5.0,4.95,4.85,4.75,4.65,4.55]
SLC7A5_core_purity = [.82,.7,.9,.62,.76,.86,.66,.94,.72,.58,
 .8,.68,.88,.6,.75,.96,.64,.84,.7,.54,
 .78,.92,.66,.74,.58,.86,.7,.82,.62,.9,
 .76,.56,.68,.84,.72,.6,.88,.78,.64,.94,
 .7,.8,.58,.74,.86,.66,.9,.76,.62,.82]
SLC7A5_core_bcell = [.02,.06,.04,.09,.01,.05,.08,.03,.07,.02,
 .1,.05,.03,.08,.06,.01,.09,.04,.07,.11,
 .03,.06,.09,.02,.05,.08,.12,.04,.07,.03,
 .1,.06,.02,.09,.05,.08,.13,.04,.07,.11,
 .05,.09,.03,.12,.07,.06,.1,.08,.05,.11]
SLC7A5_core_cd8 = [.04,.08,.02,.11,.06,.03,.09,.13,.05,.1,
 .07,.03,.12,.06,.15,.09,.04,.11,.07,.14,
 .05,.1,.17,.08,.12,.06,.15,.09,.2,.11,
 .07,.13,.18,.1,.05,.14,.08,.12,.17,.09,
 .21,.11,.15,.07,.13,.19,.1,.16,.12,.18]
SLC7A5_core_cd4 = [.12,.16,.09,.14,.2,.11,.07,.15,.1,.18,
 .13,.08,.17,.11,.14,.06,.19,.12,.09,.16,
 .1,.14,.07,.18,.12,.15,.09,.21,.11,.13,
 .08,.17,.1,.15,.06,.12,.19,.09,.14,.11,
 .07,.16,.12,.1,.18,.08,.13,.15,.1,.12]
SLC7A5_core_macro = [.03,.0,.07,.01,.1,.04,.0,.06,.02,.12,
 .0,.05,.08,.01,.0,.04,.11,.02,.07,.0,
 .03,.09,.0,.05,.01,.13,.0,.06,.02,.08,
 .0,.04,.1,.01,.0,.07,.03,.0,.09,.05,
 .0,.02,.06,.12,.01,.0,.08,.04,.0,.03]
SLC7A5_core_neut = [.06,.1,.04,.13,.08,.03,.11,.07,.15,.05,
 .09,.02,.12,.07,.17,.04,.1,.06,.14,.08,
 .03,.11,.05,.09,.16,.07,.12,.04,.1,.06,
 .13,.08,.02,.11,.05,.09,.18,.07,.12,.04,
 .1,.06,.14,.08,.03,.11,.07,.13,.05,.09]
SLC7A5_core_dc = [.48,.6,.38,.55,.7,.43,.33,.58,.5,.65,
 .4,.54,.3,.62,.46,.72,.36,.52,.44,.68,
 .34,.57,.42,.75,.49,.3,.6,.38,.53,.45,
 .66,.35,.5,.41,.63,.32,.56,.47,.7,.37,
 .52,.43,.6,.34,.48,.64,.4,.55,.3,.46]

expr = [ELAVL1_expr + ELAVL1_core, EPAS1_expr + EPAS1_core, GPX2_expr + GPX2_core, HMGB1_expr + HMGB1_core, SLC7A5_expr + SLC7A5_core]
infil = [[ELAVL1_purity + ELAVL1_core_purity, ELAVL1_bcell + ELAVL1_core_bcell, ELAVL1_cd8 + ELAVL1_core_cd8, ELAVL1_cd4 + ELAVL1_core_cd4,
          ELAVL1_macro + ELAVL1_core_macro, ELAVL1_neut + ELAVL1_core_neut, ELAVL1_dc + ELAVL1_core_dc],
         [EPAS1_purity + EPAS1_core_purity, EPAS1_bcell + EPAS1_core_bcell, EPAS1_cd8 + EPAS1_core_cd8, EPAS1_cd4 + EPAS1_core_cd4,
          EPAS1_macro + EPAS1_core_macro, EPAS1_neut + EPAS1_core_neut, EPAS1_dc + EPAS1_core_dc],
         [GPX2_purity + GPX2_core_purity, GPX2_bcell + GPX2_core_bcell, GPX2_cd8 + GPX2_core_cd8, GPX2_cd4 + GPX2_core_cd4,
          GPX2_macro + GPX2_core_macro, GPX2_neut + GPX2_core_neut, GPX2_dc + GPX2_core_dc],
         [HMGB1_purity + HMGB1_core_purity, HMGB1_bcell + HMGB1_core_bcell, HMGB1_cd8 + HMGB1_core_cd8, HMGB1_cd4 + HMGB1_core_cd4,
          HMGB1_macro + HMGB1_core_macro, HMGB1_neut + HMGB1_core_neut, HMGB1_dc + HMGB1_core_dc],
         [SLC7A5_purity + SLC7A5_core_purity, SLC7A5_bcell + SLC7A5_core_bcell, SLC7A5_cd8 + SLC7A5_core_cd8, SLC7A5_cd4 + SLC7A5_core_cd4,
          SLC7A5_macro + SLC7A5_core_macro, SLC7A5_neut + SLC7A5_core_neut, SLC7A5_dc + SLC7A5_core_dc]]

# loess fit: (x, fit, half width of the ribbon)
fits = [
    [[(.09,4.58,.19),(.25,4.63,.07),(.4,4.65,.05),(.55,4.63,.05),(.65,4.68,.05),(.74,4.75,.05),(.85,4.7,.06),(.99,4.58,.14)],
     [(0,4.42,.1),(.03,4.6,.07),(.06,4.73,.05),(.08,4.75,.05),(.12,4.73,.05),(.2,4.72,.08),(.3,4.69,.15),(.41,4.67,.33)],
     [(0,4.27,.15),(.05,4.55,.08),(.1,4.7,.06),(.15,4.69,.05),(.2,4.73,.05),(.3,4.69,.09),(.4,4.64,.17),(.6,4.6,.41)],
     [(.005,4.31,.24),(.05,4.49,.1),(.1,4.69,.06),(.13,4.77,.05),(.2,4.76,.05),(.3,4.72,.1),(.43,4.6,.35)],
     [(0,4.58,.07),(.03,4.72,.06),(.06,4.79,.05),(.1,4.77,.05),(.15,4.69,.06),(.2,4.66,.08),(.3,4.61,.15),(.377,4.54,.33)],
     [(.018,4.14,.22),(.04,4.42,.12),(.07,4.65,.06),(.1,4.69,.05),(.15,4.76,.05),(.2,4.75,.06),(.3,4.68,.12),(.345,4.62,.2)],
     [(.125,3.91,.28),(.18,4.24,.14),(.25,4.53,.08),(.3,4.61,.06),(.4,4.72,.05),(.49,4.79,.05),(.6,4.72,.05),(.7,4.68,.05),(.85,4.68,.06),(1.0,4.72,.1),(1.12,4.83,.3)]],
    [[(.09,5.76,.35),(.2,5.88,.2),(.3,5.85,.14),(.4,5.7,.12),(.5,5.55,.12),(.6,5.46,.12),(.7,5.38,.12),(.8,5.17,.14),(.87,5.1,.15),(.99,5.26,.3)],
     [(0,5.1,.2),(.05,5.22,.15),(.1,5.46,.13),(.15,5.69,.15),(.2,5.9,.2),(.25,6.06,.28),(.3,6.14,.35),(.35,6.02,.5),(.41,5.65,.78)],
     [(0,4.6,.3),(.05,5.0,.2),(.1,5.4,.15),(.15,5.55,.15),(.2,5.85,.15),(.3,6.0,.25),(.4,5.85,.4),(.6,5.3,.9)],
     [(0,4.63,.35),(.04,4.71,.22),(.08,5.07,.15),(.13,5.48,.13),(.2,5.78,.15),(.25,6.1,.18),(.3,6.49,.25),(.38,6.96,.5),(.42,7.1,.7)],
     [(0,5.0,.25),(.02,5.42,.16),(.05,5.46,.13),(.1,5.62,.13),(.2,5.95,.2),(.27,6.3,.33),(.377,7.07,.85)],
     [(.018,3.86,.3),(.05,4.78,.15),(.09,5.46,.12),(.12,5.48,.12),(.17,5.72,.12),(.25,5.86,.15),(.345,6.05,.45)],
     [(.125,3.25,.5),(.2,4.1,.25),(.3,5.0,.15),(.4,5.36,.13),(.5,5.56,.12),(.7,5.81,.13),(.9,6.09,.2),(1.12,6.27,.5)]],
    [[(.09,9.2,.5),(.25,9.4,.2),(.4,9.55,.16),(.55,9.78,.15),(.7,10.04,.15),(.8,10.14,.15),(.9,10.0,.22),(.99,9.7,.4)],
     [(0,9.2,.4),(.02,9.85,.25),(.05,10.04,.15),(.08,10.04,.15),(.12,9.85,.16),(.2,9.64,.2),(.3,9.45,.5),(.41,9.48,1.1)],
     [(0,10.1,.4),(.1,10.1,.2),(.2,9.7,.25),(.3,8.9,.4),(.4,8.5,.6),(.5,8.25,.95),(.6,8.1,1.4)],
     [(0,9.2,.5),(.03,9.9,.3),(.07,10.2,.2),(.1,10.15,.2),(.15,9.9,.2),(.2,9.6,.25),(.3,9.1,.5),(.43,8.6,1.2)],
     [(0,9.9,.2),(.05,10.1,.15),(.1,9.8,.2),(.2,9.4,.3),(.3,9.0,.6),(.377,8.6,1.1)],
     [(.018,10.3,.5),(.05,10.1,.25),(.1,9.75,.15),(.15,9.6,.18),(.2,9.5,.25),(.3,9.2,.5),(.345,9.0,.8)],
     [(.125,9.7,.7),(.2,10.2,.35),(.3,10.3,.2),(.5,9.85,.15),(.7,9.4,.25),(.9,8.9,.4),(1.0,8.75,.6),(1.12,8.85,1.1)]],
    [[(.09,7.11,.42),(.2,7.38,.2),(.3,7.54,.14),(.4,7.59,.12),(.6,7.59,.12),(.72,7.63,.12),(.85,7.59,.12),(.99,7.5,.25)],
     [(0,6.76,.3),(.02,7.35,.2),(.05,7.71,.13),(.07,7.74,.13),(.1,7.66,.13),(.2,7.66,.18),(.3,7.56,.3),(.37,7.58,.55),(.41,7.73,.9)],
     [(0,5.4,.5),(.03,6.3,.38),(.06,7.0,.26),(.1,7.6,.15),(.14,7.8,.15),(.2,7.75,.15),(.3,7.7,.2),(.4,7.7,.3),(.5,7.75,.5),(.6,7.95,.8)],
     [(0,8.2,.6),(.03,7.85,.32),(.07,7.7,.18),(.12,7.6,.12),(.2,7.6,.15),(.3,7.65,.3),(.43,7.75,.8)],
     [(0,7.35,.25),(.03,7.75,.18),(.06,7.9,.15),(.1,7.7,.15),(.2,7.5,.25),(.3,7.3,.5),(.377,7.15,.9)],
     [(.018,6.65,.5),(.05,7.55,.2),(.08,7.7,.14),(.15,7.7,.15),(.25,7.6,.25),(.3,7.55,.4),(.345,7.4,.65)],
     [(.125,6.1,.7),(.2,7.0,.3),(.3,7.7,.15),(.4,7.75,.13),(.6,7.65,.13),(.8,7.5,.2),(1.0,7.5,.3),(1.12,7.6,.8)]],
    [[(.09,5.78,.5),(.25,5.9,.25),(.45,5.92,.2),(.6,5.87,.2),(.72,5.78,.2),(.85,6.0,.2),(.99,6.33,.4)],
     [(0,6.22,.3),(.04,6.1,.22),(.08,5.7,.2),(.12,5.74,.22),(.2,5.63,.4),(.25,5.63,.48),(.3,5.74,.6),(.41,6.05,1.05)],
     [(0,6.4,.4),(.05,6.3,.3),(.1,5.95,.25),(.15,5.65,.24),(.2,5.55,.25),(.3,5.4,.4),(.45,5.45,.7),(.6,5.7,1.3)],
     [(0,4.5,.8),(.03,5.2,.5),(.07,5.85,.28),(.12,6.05,.2),(.2,6.0,.25),(.3,5.8,.5),(.43,5.45,1.2)],
     [(0,6.0,.2),(.05,5.8,.2),(.1,5.95,.25),(.15,5.95,.3),(.2,5.85,.4),(.3,5.45,.7),(.377,5.15,1.1)],
     [(.018,6.45,.5),(.05,6.1,.3),(.1,5.95,.2),(.15,5.85,.22),(.2,5.9,.3),(.3,5.75,.6),(.345,5.7,.9)],
     [(.125,6.5,.6),(.2,6.2,.35),(.3,6.05,.2),(.5,5.8,.18),(.7,5.75,.2),(.9,5.85,.3),(1.0,6.0,.45),(1.12,6.3,.8)]],
]

# axis setup
col_range = [(.0476, 1.026), (-.0198, .4317), (-.029, .624), (-.02, .451), (-.0176, .394), (.0017, .36), (.0756, 1.171)]
col_ticks = [(.25, .25, ".2f"), (0, .1, ".1f"), (0, .2, ".1f"), (0, .1, ".1f"), (0, .1, ".1f"), (.1, .1, ".1f"), (.3, .3, ".1f")]
row_range = [(2.908, 5.662), (2.43, 8.77), (1.75, 12.31), (3.74, 9.25), (2.05, 8.39)]
row_ticks = [(3, .5, ".1f"), (4, 2, "d"), (2.5, 2.5, ".1f"), (4, 1, "d"), (4, 2, "d")]

# pixel layout of the five facet rows
strip_top = [47, 280, 526, 762, 1004]
panel_top = [65, 299, 545, 782, 1023]
panel_bot = [235, 478, 723, 960, 1202]
panel_left = [63, 48, 62, 48, 48]
panel_step = [194.5, 196.4, 194.6, 196.4, 196.4]
panel_w = [187, 189.5, 187.5, 189.5, 189.5]
coad_left = [43, 28, 42, 28, 28]
ytitle_x = [13, 7, 7, 7, 7]
ytitle_y = [151, 389, 635, 871, 1113]
xtitle_x = [740, 732, 739, 732, 732]
xtitle_y = [258, 502, 748, 984, 1225]

# panel B
b_genes = ["ELAVL1", "GPX2", "EPAS1", "SLC7A5", "HMGB1"]
b_cells = ["B Cell", "CD8+ T Cell", "CD4+ T Cell", "Macrophage", "Neutrophil", "Dendritic Cell"]
b_vals = [[0.218, 0.111, 0.253, 0.182, 0.22, 0.213],
          [-0.0137, -0.219, -0.12, -0.163, -0.311, -0.28],
          [0.254, 0.325, 0.496, 0.383, 0.414, 0.457],
          [-0.163, -0.232, 0.0709, -0.000152, -0.0644, -0.101],
          [0.11, 0.208, -0.0712, 0.112, 0.06, -0.0158]]
b_text = [["0.218", "0.111", "0.253", "0.182", "0.22", "0.213"],
          ["-0.0137", "-0.219", "-0.12", "-0.163", "-0.311", "-0.28"],
          ["0.254", "0.325", "0.496", "0.383", "0.414", "0.457"],
          ["-0.163", "-0.232", "0.0709", "-0.000152", "-0.0644", "-0.101"],
          ["0.11", "0.208", "-0.0712", "0.112", "0.06", "-0.0158"]]
b_p = [["p=9.67E-06", "p=0.0252", "p=2.86E-07", "p=2.42E-04", "p=8.49E-06", "p=1.68E-05"],
       ["p=0.784002", "p=8.47E-06", "p=0.0160", "p=0.00101", "p=1.92E-10", "p=1.14E-08"],
       ["p=2.21E-07", "p=2.01E-11", "p=2.09E-26", "p=1.37E-15", "p=4.42E-18", "p=3.86E-22"],
       ["p=0.00104", "p=2.36E-06", "p=0.155", "p=0.997", "p=0.198", "p=0.0427"],
       ["p=0.0269", "p=2.39E-05", "p=0.154", "p=0.0245", "p=0.230", "p=0.752"]]

# panel C
c_genes = ["ELAVL1", "GPX2", "EPAS1", "SLC7A5", "HMGB1"]
c_vals = [[1, -0.00965862, 0.161418, 0.242808, 0.354072],
          [None, 1, -0.0958928, 0.12241, 0.20372],
          [None, None, 1, 0.019063, 0.0570467],
          [None, None, None, 1, 0.0502487],
          [None, None, None, None, 1]]
c_text = [["1", "-0.00965862", "0.161418", "0.242808", "0.354072"],
          ["", "1", "-0.0958928", "0.12241", "0.20372"],
          ["", "", "1", "0.019063", "0.0570467"],
          ["", "", "", "1", "0.0502487"],
          ["", "", "", "", "1"]]
c_p = [["p=0", "p=0.836", "p=0.000532", "p=1.57E-07", "p=5.66E-15"],
       ["", "p=0", "p= 0.0402", "p=0.00876", "p=1.11E-05"],
       ["", "", "p=0", "p=0.683", "p=0.223"],
       ["", "", "", "p=0", "p=0.283"],
       ["", "", "", "", "p=0"]]

YLGNBU = ["#ffffd9", "#edf8b1", "#c7e9b4", "#7fcdbb", "#41b6c4", "#1d91c0", "#225ea8", "#253494", "#081d58"]
RDYLBU_R = ["#313695", "#4575b4", "#74add1", "#abd9e9", "#e0f3f8", "#ffffbf", "#fee090", "#fdae61", "#f46d43", "#d73027", "#a50026"]


def px(v):
    return v / W


def py(v):
    return 1 - v / H


def scale(colors):
    return [[i / (len(colors) - 1), c] for i, c in enumerate(colors)]


fig = go.Figure()
layout = {}
shapes = []
notes = []


def note(x, y, text, size, color="#1a1a1a", family=SANS, angle=0, xa="center", ya="middle", xref="paper", yref="paper", yshift=0):
    notes.append(dict(x=x, y=y, text=text, xref=xref, yref=yref, showarrow=False, xanchor=xa, yanchor=ya,
                      textangle=angle, yshift=yshift, font=dict(size=size, color=color, family=family)))


axis_id = 0
for r, gene in enumerate(genes):
    for c, facet in enumerate(facets):
        axis_id += 1
        left = panel_left[r] + c * panel_step[r]
        right = left + panel_w[r]
        t0, dt, fmt = col_ticks[c]
        layout["xaxis%d" % axis_id] = dict(
            domain=[px(left), px(right)], range=col_range[c], anchor="y%d" % axis_id,
            tick0=t0, dtick=dt, tickformat=fmt, ticks="outside", ticklen=3, tickwidth=.7, tickcolor="#555",
            tickfont=dict(size=10, color="#4d4d4d", family=SANS),
            showline=True, mirror=True, linecolor="#6e6e6e", linewidth=1.2,
            gridcolor="#ebebeb", gridwidth=1, zeroline=False,
            minor=dict(tick0=t0, dtick=dt / 2, showgrid=True, gridcolor="#f2f2f2", gridwidth=.6, ticks=""))
        y0, ydt, yfmt = row_ticks[r]
        yaxis = dict(
            domain=[py(panel_bot[r]), py(panel_top[r])], range=row_range[r], anchor="x%d" % axis_id,
            tick0=y0, dtick=ydt, tickformat=yfmt, ticks="outside" if c == 0 else "", ticklen=3, tickwidth=.7, tickcolor="#555",
            showticklabels=c == 0, tickfont=dict(size=10, color="#4d4d4d", family=SANS),
            showline=True, mirror=True, linecolor="#6e6e6e", linewidth=1.2,
            gridcolor="#ebebeb", gridwidth=1, zeroline=False,
            minor=dict(tick0=y0, dtick=ydt / 2, showgrid=True, gridcolor="#f2f2f2", gridwidth=.6, ticks=""))
        if c == 0:
            # first column carries its ticks left of the COAD strip
            yaxis.update(anchor="free", position=px(coad_left[r]))
        layout["yaxis%d" % axis_id] = yaxis

        fig.add_trace(go.Scatter(x=infil[r][c], y=expr[r], mode="markers", marker=dict(size=6.2, color="#333333"),
                                 xaxis="x%d" % axis_id, yaxis="y%d" % axis_id, showlegend=False))
        knots = fits[r][c]
        xs = [k[0] for k in knots]
        mid = [k[1] for k in knots]
        hi = [k[1] + k[2] for k in knots]
        lo = [k[1] - k[2] for k in knots]
        fig.add_trace(go.Scatter(x=xs + xs[::-1], y=hi + lo[::-1], mode="lines", line=dict(width=0, shape="spline"),
                                 fill="toself", fillcolor="rgba(153,153,153,.4)",
                                 xaxis="x%d" % axis_id, yaxis="y%d" % axis_id, showlegend=False))
        fig.add_trace(go.Scatter(x=xs, y=mid, mode="lines", line=dict(width=2.4, color="#3366ff", shape="spline"),
                                 xaxis="x%d" % axis_id, yaxis="y%d" % axis_id, showlegend=False))

        shapes.append(dict(type="rect", xref="paper", yref="paper", x0=px(left), x1=px(right), y0=py(panel_top[r]), y1=py(strip_top[r]),
                           fillcolor="#d9d9d9", line=dict(color="#6e6e6e", width=1)))
        note(px((left + right) / 2), py((strip_top[r] + panel_top[r]) / 2), facet, 9.7)
        label = ("cor = " if c == 0 else "partial.cor = ") + cors[r][c]
        note(px(right - 1), py(panel_top[r] + 10), label, 12.6, "#ee1c25", xa="right")
        note(px(right - 1), py(panel_top[r] + 22), "p = " + pvals[r][c], 12.6, "#ee1c25", xa="right")
    shapes.append(dict(type="rect", xref="paper", yref="paper", x0=px(coad_left[r]), x1=px(panel_left[r]), y0=py(panel_bot[r]), y1=py(panel_top[r]),
                       fillcolor="#d9d9d9", line=dict(color="#6e6e6e", width=1)))
    note(px((coad_left[r] + panel_left[r]) / 2), py((panel_top[r] + panel_bot[r]) / 2), "COAD", 9.7, "#333", angle=-90)
    note(px(ytitle_x[r]), py(ytitle_y[r]), gene + " Expression Level (log2 TPM)", 12, angle=-90)
    note(px(xtitle_x[r]), py(xtitle_y[r]), "Infiltration Level", 12.4)

# heatmap B
fig.add_trace(go.Heatmap(z=b_vals, x=b_cells, y=b_genes, zmin=-.5, zmax=.5, colorscale=scale(YLGNBU), xgap=1.5, ygap=1.5,
                         xaxis="x36", yaxis="y36",
                         colorbar=dict(x=px(624), xanchor="left", xpad=0, y=py(1323), yanchor="top", ypad=0, len=566 / H, lenmode="fraction",
                                       thickness=33, thicknessmode="pixels", outlinewidth=0, ticks="outside", ticklen=4, tickcolor="#555",
                                       tickvals=[-.4, -.2, 0, .2, .4], ticktext=["-0.4", "-0.2", "0.0", "0.2", "0.4"],
                                       tickfont=dict(size=31, family=SERIF, color="#333"))))
layout["xaxis36"] = dict(domain=[px(63), px(591)], anchor="y36", tickangle=-90, ticks="outside", ticklen=4, tickcolor="#555", showgrid=False, zeroline=False,
                         tickfont=dict(size=12.6, family=SANS, color="#111"))
layout["yaxis36"] = dict(domain=[py(1889), py(1324)], anchor="x36", autorange="reversed", ticks="outside", ticklen=4, tickcolor="#555", showgrid=False, zeroline=False,
                         tickfont=dict(size=15, family=SANS, color="#111"))
for i, gene in enumerate(b_genes):
    for j, cell in enumerate(b_cells):
        color = "#ffffff" if b_vals[i][j] > -.03 else "#222222"
        note(cell, gene, b_text[i][j], 19.4, color, xref="x36", yref="y36", yshift=2)
        note(cell, gene, b_p[i][j], 15.8, color, family=SERIF, xref="x36", yref="y36", yshift=-31)

# heatmap C
fig.add_trace(go.Heatmap(z=c_vals, x=c_genes, y=c_genes, zmin=-.5, zmax=.5, colorscale=scale(RDYLBU_R), xgap=2, ygap=2,
                         xaxis="x37", yaxis="y37", hoverongaps=False,
                         colorbar=dict(x=px(1354), xanchor="left", xpad=0, y=py(1323), yanchor="top", ypad=0, len=554 / H, lenmode="fraction",
                                       thickness=30, thicknessmode="pixels", outlinewidth=0, ticks="outside", ticklen=4, tickcolor="#555",
                                       tickvals=[-.4, -.2, 0, .2, .4], ticktext=["-0.4", "-0.2", "0.0", "0.2", "0.4"],
                                       tickfont=dict(size=12.5, family=SERIF, color="#222"))))
layout["xaxis37"] = dict(domain=[px(842), px(1323.6)], anchor="y37", tickangle=-90, ticks="outside", ticklen=4, tickcolor="#555", showgrid=False, zeroline=False,
                         tickfont=dict(size=17, family=SERIF, color="#111"))
layout["yaxis37"] = dict(domain=[py(1877), py(1324)], anchor="x37", autorange="reversed", ticks="outside", ticklen=4, tickcolor="#555", showgrid=False, zeroline=False,
                         tickfont=dict(size=17, family=SERIF, color="#111"))
for i, gene in enumerate(c_genes):
    for j, other in enumerate(c_genes):
        if c_vals[i][j] is None:
            continue
        white = c_vals[i][j] > .3
        note(other, gene, c_text[i][j], 17, "#ffffff" if white else "#222222", family=SERIF, xref="x37", yref="y37", yshift=2)
        note(other, gene, c_p[i][j], 18.3, "#ffffff" if white else "#222222", family=SERIF, xref="x37", yref="y37", yshift=-24)

for letter, x, y in [("A", 1, 14), ("B", 1, 1282), ("C", 776, 1282)]:
    notes.append(dict(x=px(x), y=py(y), text="<b>%s</b>" % letter, xref="paper", yref="paper", showarrow=False, xanchor="left", yanchor="middle",
                      font=dict(size=28, family=SANS, color="#000")))

fig.update_layout(width=W, height=H, margin=dict(l=0, r=0, t=0, b=0, autoexpand=False), plot_bgcolor="white", paper_bgcolor="white",
                  showlegend=False, shapes=shapes, annotations=notes, **layout)

fig.write_html("out.html", config={"displayModeBar": False}, post_script="document.body.style.margin='0';")
